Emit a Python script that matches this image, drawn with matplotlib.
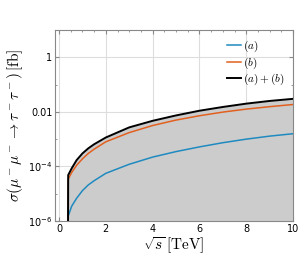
import matplotlib
matplotlib.use("Agg")
import matplotlib.pyplot as plt
from matplotlib.ticker import FixedLocator, MultipleLocator, NullFormatter

plt.rcParams["mathtext.fontset"] = "cm"

# data (sqrt(s) in TeV, sigma in fb)
sqrt_s = [0.38, 0.39, 0.54, 0.75, 1.0, 1.25, 1.5, 2, 3, 4, 5, 6, 7, 8, 9, 10]
sig_a = [1e-7, 1.5e-6, 3.5e-6, 6.8e-6, 1.3e-5, 2.1e-5, 3.0e-5, 5.6e-5, 1.2e-4,
         2.2e-4, 3.5e-4, 5.2e-4, 7.4e-4, 1.0e-3, 1.29e-3, 1.58e-3]
sig_b = [1e-7, 3.4e-5, 6.0e-5, 1.1e-4, 1.9e-4, 3.0e-4, 4.3e-4, 8.0e-4, 1.74e-3,
         3.16e-3, 5.0e-3, 7.2e-3, 9.8e-3, 1.26e-2, 1.55e-2, 1.86e-2]
sig_ab = [1e-7, 4.8e-5, 8.5e-5, 1.7e-4, 3.0e-4, 4.6e-4, 6.5e-4, 1.15e-3, 2.7e-3,
          4.7e-3, 7.4e-3, 1.1e-2, 1.51e-2, 2.0e-2, 2.51e-2, 3.0e-2]

ytick_vals = [1e-6, 1e-4, 1e-2, 1]
ytick_labels = ["$10^{-6}$", "$10^{-4}$", "0.01", "1"]

fig = plt.figure(figsize=(3.06, 2.58), dpi=100)
ax = fig.add_axes([0.18, 0.1434, 0.7775, 0.7403])

ax.fill_between(sqrt_s, 1e-8, sig_ab, color="#cccccc", lw=0, zorder=1)
ax.plot(sqrt_s, sig_a, color="#1f8ac0", lw=1.1, label="$(a)$", zorder=3)
ax.plot(sqrt_s, sig_b, color="#e2601f", lw=1.1, label="$(b)$", zorder=3)
ax.plot(sqrt_s, sig_ab, color="black", lw=1.4, label="$(a)+(b)$", zorder=4)

ax.set_yscale("log")
ax.set_xlim(-0.17, 10)
ax.set_ylim(1e-6, 10)

ax.xaxis.set_major_locator(MultipleLocator(2))
ax.xaxis.set_minor_locator(MultipleLocator(0.5))
ax.yaxis.set_major_locator(FixedLocator(ytick_vals))
ax.set_yticklabels(ytick_labels)
ax.yaxis.set_minor_locator(FixedLocator([1e-5, 1e-3, 1e-1, 10]))
ax.yaxis.set_minor_formatter(NullFormatter())

ax.grid(True, which="major", color="#dddddd", lw=0.8, zorder=0)
ax.set_axisbelow(True)
ax.tick_params(which="both", direction="in", top=True, right=True,
               labelsize=7, color="#888888", pad=2)
ax.tick_params(which="major", length=3)
ax.tick_params(which="minor", length=1.5)
for lab in ax.get_yticklabels() + ax.get_xticklabels():
    lab.set_math_fontfamily("dejavusans")
for sp in ax.spines.values():
    sp.set_color("#888888")
    sp.set_linewidth(0.8)

ax.set_xlabel(r"$\sqrt{s}\,[\mathrm{TeV}]$", fontsize=11, labelpad=1)
ax.set_ylabel(r"$\sigma(\mu^-\mu^-\to\tau^-\tau^-)\,[\mathrm{fb}]$", fontsize=11, labelpad=2)

ax.legend(loc="upper right", frameon=False, fontsize=8, handlelength=1.2,
          handletextpad=0.2, labelspacing=0.12, borderaxespad=0.4)

fig.savefig("out.png", dpi=100)
